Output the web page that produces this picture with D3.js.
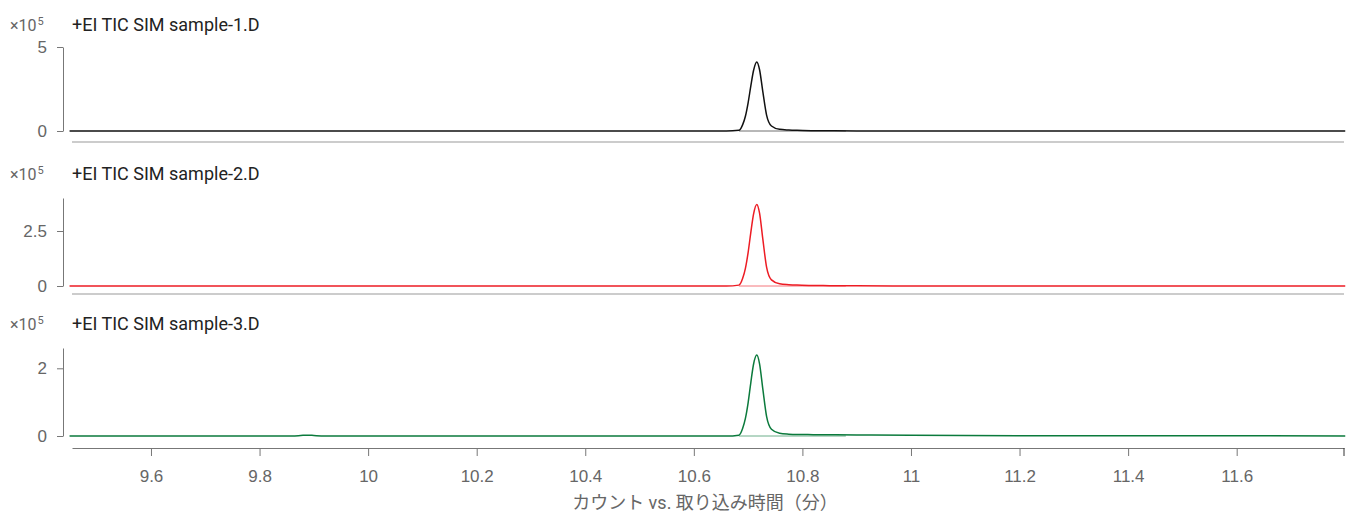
<!DOCTYPE html>
<html>
<head>
<meta charset="utf-8">
<script src="https://cdn.jsdelivr.net/npm/d3@7"></script>
<style>
  body { margin: 0; background: #fff; }
  svg { display: block; font-family: Roboto, "Noto Sans CJK JP", sans-serif; }
</style>
</head>
<body>
<div id="chart"></div>
<script>
// retention time (min)
var times = [9.45, 9.80, 9.86, 9.88, 9.89, 9.90, 9.92, 9.98, 10.20, 10.50, 10.66,
    10.683, 10.690, 10.695, 10.700, 10.705, 10.710, 10.716, 10.721, 10.727, 10.734,
    10.743, 10.758, 10.775, 10.79, 10.82, 10.85, 10.90, 11.00, 11.20, 11.50, 11.80];

// counts, one array per sample
var sample1 = [0, 0, 0, 0, 0, 0, 0, 0, 0, 0, 0,
    4000, 38000, 88000, 168000, 268000, 360000, 411000, 366000, 236000, 95000,
    30000, 10000, 6000, 4000, 2000, 1000, 500, 0, 0, 0, 0];
var sample2 = [0, 0, 0, 0, 0, 0, 0, 0, 0, 0, 0,
    4000, 35000, 80000, 152000, 244000, 327000, 371000, 332000, 215000, 86000,
    28000, 10000, 6000, 4000, 2500, 1500, 800, 300, 0, 0, 0];
var sample3 = [0, 0, 0, 2000, 2500, 1500, 0, 0, 0, 0, 0,
    2500, 23000, 52000, 98000, 158000, 212000, 239000, 214000, 140000, 58000,
    20000, 8000, 5500, 4500, 4000, 3500, 3000, 2000, 1000, 500, 300];

var sampleNames = ["+EI TIC SIM sample-1.D", "+EI TIC SIM sample-2.D", "+EI TIC SIM sample-3.D"];
var sampleColors = ["#111111", "#ed1c24", "#0b7a3c"];
var yMax = [500000, 400000, 260000];
var yTicks = [[0, 500000], [0, 250000], [0, 200000]];
var xTicks = [9.6, 9.8, 10, 10.2, 10.4, 10.6, 10.8, 11, 11.2, 11.4, 11.6];
var peakBase = [10.683, 10.88];   // integration baseline under the peak
var xTitle = "カウント vs. 取り込み時間（分）";

var series = [sample1, sample2, sample3];

var width = 1352, height = 514;
var left = 72, right = 1344;
// per panel: pixel of y max, pixel of zero, pixel of bottom rule, title baseline
var panels = [
    { top: 47, zero: 131, rule: 142, title: 31 },
    { top: 198, zero: 286, rule: 294, title: 180 },
    { top: 348, zero: 436, rule: 448, title: 330 }
];

var svg = d3.select("#chart")
    .append("svg")
    .attr("width", width)
    .attr("height", height);

var x = d3.scaleLinear()
    .domain([9.4545, 11.7977])
    .range([left, right]);

series.forEach(function(vals, i) {
    var p = panels[i];
    var y = d3.scaleLinear()
        .domain([0, yMax[i]])
        .range([p.zero, p.top]);

    var g = svg.append("g");

    // exponent label
    var ex = g.append("text")
        .attr("x", 10)
        .attr("y", p.title)
        .attr("fill", "#666")
        .style("font-size", "16px")
        .text("×10");
    ex.append("tspan")
        .attr("dy", -6)
        .attr("dx", 1)
        .style("font-size", "11px")
        .text("5");

    // sample title
    g.append("text")
        .attr("x", left)
        .attr("y", p.title)
        .attr("fill", "#222")
        .style("font-size", "18px")
        .text(sampleNames[i]);

    // y axis
    var yAxis = d3.axisLeft(y)
        .tickValues(yTicks[i])
        .tickSize(6)
        .tickSizeOuter(0)
        .tickPadding(10)
        .tickFormat(function(d) { return String(d / 100000); });

    var ya = g.append("g")
        .attr("transform", "translate(63,0)")
        .call(yAxis);
    ya.select(".domain").attr("stroke", "#777");
    ya.selectAll(".tick line").attr("stroke", "#777");
    ya.selectAll(".tick text")
        .attr("fill", "#666")
        .style("font-size", "17px")
        .attr("font-family", null);

    // bottom rule
    if (i < 2) {
        g.append("line")
            .attr("x1", left)
            .attr("x2", right)
            .attr("y1", p.rule)
            .attr("y2", p.rule)
            .attr("stroke", "#999")
            .attr("stroke-width", 1);
    }

    // baseline under peak
    g.append("line")
        .attr("x1", x(peakBase[0]))
        .attr("x2", x(peakBase[1]))
        .attr("y1", y(0))
        .attr("y2", y(0))
        .attr("stroke", sampleColors[i])
        .attr("stroke-opacity", 0.6)
        .attr("stroke-width", 1);

    var line = d3.line()
        .x(function(d, j) { return x(times[j]); })
        .y(function(d) { return y(d); })
        .curve(d3.curveMonotoneX);

    g.append("path")
        .datum(vals)
        .attr("d", line)
        .attr("fill", "none")
        .attr("stroke", sampleColors[i])
        .attr("stroke-width", 1.5)
        .attr("stroke-linejoin", "round");
});

// x axis on the last panel
var xAxis = d3.axisBottom(x)
    .tickValues(xTicks)
    .tickSize(8)
    .tickSizeOuter(0)
    .tickPadding(14)
    .tickFormat(function(d) { return String(+d.toFixed(1)); });

var xa = svg.append("g")
    .attr("transform", "translate(0," + panels[2].rule + ")")
    .call(xAxis);
xa.select(".domain").attr("stroke", "#777");
xa.selectAll(".tick line").attr("stroke", "#777");
xa.selectAll(".tick text")
    .attr("fill", "#666")
    .style("font-size", "17px")
    .attr("font-family", null);

// end tick on the right
svg.append("line")
    .attr("x1", right)
    .attr("x2", right)
    .attr("y1", panels[2].rule)
    .attr("y2", panels[2].rule + 8)
    .attr("stroke", "#333");

svg.append("text")
    .attr("x", 705)
    .attr("y", 509)
    .attr("text-anchor", "middle")
    .attr("fill", "#666")
    .style("font-size", "18px")
    .text(xTitle);
</script>
</body>
</html>
